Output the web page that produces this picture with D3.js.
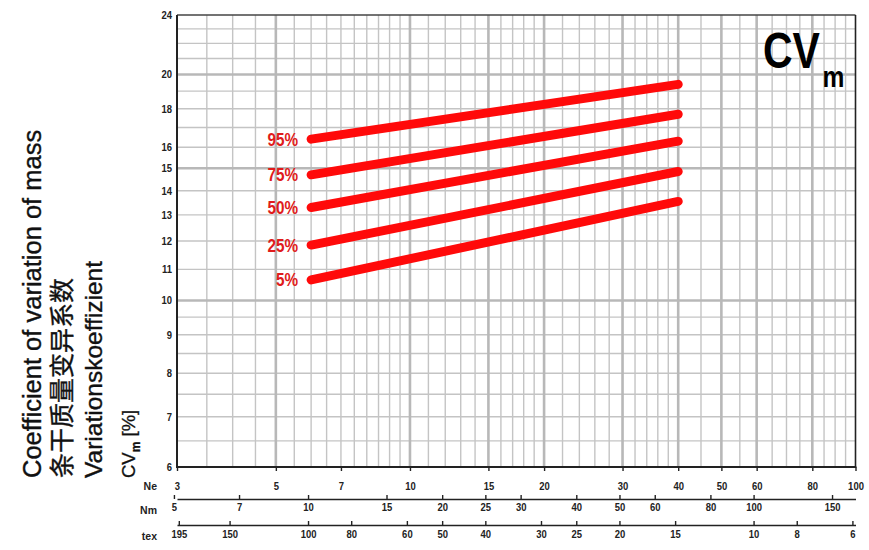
<!DOCTYPE html>
<html><head><meta charset="utf-8">
<script src="https://cdn.jsdelivr.net/npm/d3@7"></script>
<style>body{margin:0;background:#fff} svg{display:block}</style>
</head><body><svg id="c" width="869" height="550"></svg>
<script>
// ---- data ----
const percentiles = ["95%", "75%", "50%", "25%", "5%"];
const neRange = [6, 40];
const cvAtStart = [16.4, 14.7, 13.3, 11.85, 10.65];
const cvAtEnd = [19.4, 17.7, 16.3, 14.85, 13.55];
const yTicks = [6, 7, 8, 9, 10, 11, 12, 13, 14, 15, 16, 18, 20, 24];
const neTicks = [3, 5, 7, 10, 15, 20, 30, 40, 50, 60, 80, 100];
const nmTicks = [5, 7, 10, 15, 20, 25, 30, 40, 50, 60, 80, 100, 150];
const texTicks = [195, 150, 100, 80, 60, 50, 40, 30, 25, 20, 15, 10, 8, 6];
const neGridMinor = [3.5, 4, 4.5, 5.5, 6, 6.5, 7, 7.5, 8, 8.5, 9, 9.5,
  11, 12, 13, 14, 16, 17, 18, 19, 22, 24, 26, 28, 32, 34, 36, 38,
  45, 55, 65, 70, 75, 85, 90, 95];
const neGridMajor = [5, 10, 15, 20, 30, 40, 50, 60, 80];
const yGridMinor = [6.5, 7, 7.5, 8, 8.5, 9, 9.5, 11, 12, 13, 14, 16, 17, 18, 19, 21, 22, 23];
const yGridMajor = [10, 15, 20];
const NM_PER_NE = 1.6933;   // Nm = 1.6933 * Ne
const TEX_TIMES_NE = 590.5; // tex = 590.5 / Ne

// ---- layout ----
const L = 177, R = 855.5, T = 15, B = 467;
const svg = d3.select("#c");
const x = d3.scaleLog().domain([3, 100]).range([L, R]);
const y = d3.scaleLog().domain([6, 24]).range([B, T]);
const xNm = d3.scaleLog().domain([3 * NM_PER_NE, 100 * NM_PER_NE]).range([L, R]);
const xTex = d3.scaleLog().domain([TEX_TIMES_NE / 3, TEX_TIMES_NE / 100]).range([L, R]);

const font = "'Liberation Sans', Arial, Helvetica, sans-serif";

function condense(sel, k) {
  sel.each(function () {
    const len = this.getComputedTextLength();
    d3.select(this).attr("textLength", len * k).attr("lengthAdjust", "spacingAndGlyphs");
  });
}

// grid
const g = svg.append("g");
g.selectAll(".vm").data(neGridMinor).join("line")
  .attr("x1", d => x(d)).attr("x2", d => x(d)).attr("y1", T).attr("y2", B)
  .attr("stroke", "#c4c4c4").attr("stroke-width", 1.4);
g.selectAll(".hm").data(yGridMinor).join("line")
  .attr("x1", L).attr("x2", R).attr("y1", d => y(d)).attr("y2", d => y(d))
  .attr("stroke", "#c4c4c4").attr("stroke-width", 1.4);
g.selectAll(".vM").data(neGridMajor).join("line")
  .attr("x1", d => x(d)).attr("x2", d => x(d)).attr("y1", T).attr("y2", B)
  .attr("stroke", "#b8b8b8").attr("stroke-width", 2.6);
g.selectAll(".hM").data(yGridMajor).join("line")
  .attr("x1", L).attr("x2", R).attr("y1", d => y(d)).attr("y2", d => y(d))
  .attr("stroke", "#b8b8b8").attr("stroke-width", 2.6);

// frame
svg.append("line").attr("x1", L).attr("x2", R).attr("y1", T).attr("y2", T).attr("stroke", "#444").attr("stroke-width", 1.6);
svg.append("line").attr("x1", R).attr("x2", R).attr("y1", T).attr("y2", B).attr("stroke", "#222").attr("stroke-width", 1.6);
svg.append("line").attr("x1", L).attr("x2", L).attr("y1", T).attr("y2", B + 1).attr("stroke", "#222").attr("stroke-width", 2);
svg.append("line").attr("x1", L - 1).attr("x2", R + 0.8).attr("y1", B).attr("y2", B).attr("stroke", "#222").attr("stroke-width", 2.2);

// y axis labels
const yAxis = d3.axisLeft(y).tickValues(yTicks).tickFormat(d3.format("d")).tickSize(0).tickPadding(5);
const ya = svg.append("g").attr("transform", `translate(${L},0)`).call(yAxis);
ya.select(".domain").remove();

// Ne axis (ticks on plot bottom)
const neAxis = d3.axisBottom(x).tickValues(neTicks).tickFormat(d3.format("d")).tickSize(4).tickSizeOuter(0).tickPadding(12);
const na = svg.append("g").attr("transform", `translate(0,${B})`).call(neAxis);
na.select(".domain").remove();
na.selectAll("line").attr("stroke", "#222").attr("stroke-width", 1.4);

// Nm axis
const nmAxis = d3.axisBottom(xNm).tickValues(nmTicks).tickFormat(d3.format("d")).tickSize(-4).tickSizeOuter(0).tickPadding(5);
const nma = svg.append("g").attr("transform", "translate(0,499)").call(nmAxis);
nma.select(".domain").attr("stroke", "#222").attr("stroke-width", 1.6);
nma.selectAll(".tick line").attr("stroke", "#222").attr("stroke-width", 1.4);

// tex axis
const texAxis = d3.axisBottom(xTex).tickValues(texTicks).tickFormat(d3.format("d")).tickSize(-4).tickSizeOuter(0).tickPadding(6);
const ta = svg.append("g").attr("transform", "translate(0,525)").call(texAxis);
ta.select(".domain").attr("stroke", "#222").attr("stroke-width", 1.6);
ta.selectAll(".tick line").attr("stroke", "#222").attr("stroke-width", 1.4);

svg.selectAll(".tick text").attr("font-family", font).attr("font-weight", "bold").attr("font-size", 10.5).attr("fill", "#222");
condense(svg.selectAll(".tick text"), 0.9);

// axis names
const axNames = [["Ne", 490], ["Nm", 514], ["tex", 540]];
svg.selectAll(".axname").data(axNames).join("text")
  .attr("x", 157).attr("y", d => d[1]).attr("text-anchor", "end")
  .attr("font-family", font).attr("font-weight", "bold").attr("font-size", 10.5).attr("fill", "#222")
  .text(d => d[0]);

// percentile lines
const line = d3.line().x(d => x(d[0])).y(d => y(d[1]));
const series = percentiles.map((p, i) => ({ p, pts: [[neRange[0], cvAtStart[i]], [neRange[1], cvAtEnd[i]]] }));
svg.selectAll(".pl").data(series).join("path")
  .attr("d", d => line(d.pts)).attr("fill", "none")
  .attr("stroke", "#ff0a0a").attr("stroke-width", 9).attr("stroke-linecap", "round");
const plab = svg.selectAll(".plab").data(series).join("text")
  .attr("x", d => x(d.pts[0][0]) - 13).attr("y", d => y(d.pts[0][1]) + 6.5)
  .attr("text-anchor", "end").attr("font-family", font).attr("font-weight", "bold")
  .attr("font-size", 18).attr("fill", "#e01b1b").text(d => d.p);
condense(plab, 0.85);

// CV_m title (one text element, horizontally condensed)
const cvt = svg.append("text").attr("transform", "translate(763,68) scale(0.82,1)")
  .attr("font-family", font).attr("font-weight", "bold").attr("fill", "#000");
cvt.append("tspan").attr("font-size", 50).text("CV");
cvt.append("tspan").attr("font-size", 30).attr("dx", 3).attr("dy", 19).text("m");

// left vertical title
const titleY = 478;
const tl = [
  { t: "Coefficient of variation of mass", x: 40.5, size: 25.5, fam: font },
  { t: "条干质量变异系数", x: 71, size: 25, fam: "'Noto Sans CJK SC', sans-serif" },
  { t: "Variationskoeffizient", x: 102, size: 24.5, fam: font }
];
tl.forEach(d => {
  svg.append("text").attr("transform", `translate(${d.x},${titleY}) rotate(-90)`)
    .attr("font-family", d.fam).attr("font-size", d.size).attr("fill", "#111")
    .attr("stroke", "#111").attr("stroke-width", 0.35).text(d.t);
});
const t4 = svg.append("text").attr("transform", `translate(135,${titleY}) rotate(-90)`)
  .attr("font-family", font).attr("font-size", 18.5).attr("fill", "#111")
  .attr("stroke", "#111").attr("stroke-width", 0.3);
t4.append("tspan").text("CV");
t4.append("tspan").attr("dy", 5).attr("font-size", 12).attr("font-weight", "bold").text("m");
t4.append("tspan").attr("dy", -5).text(" [%]");
</script></body></html>
